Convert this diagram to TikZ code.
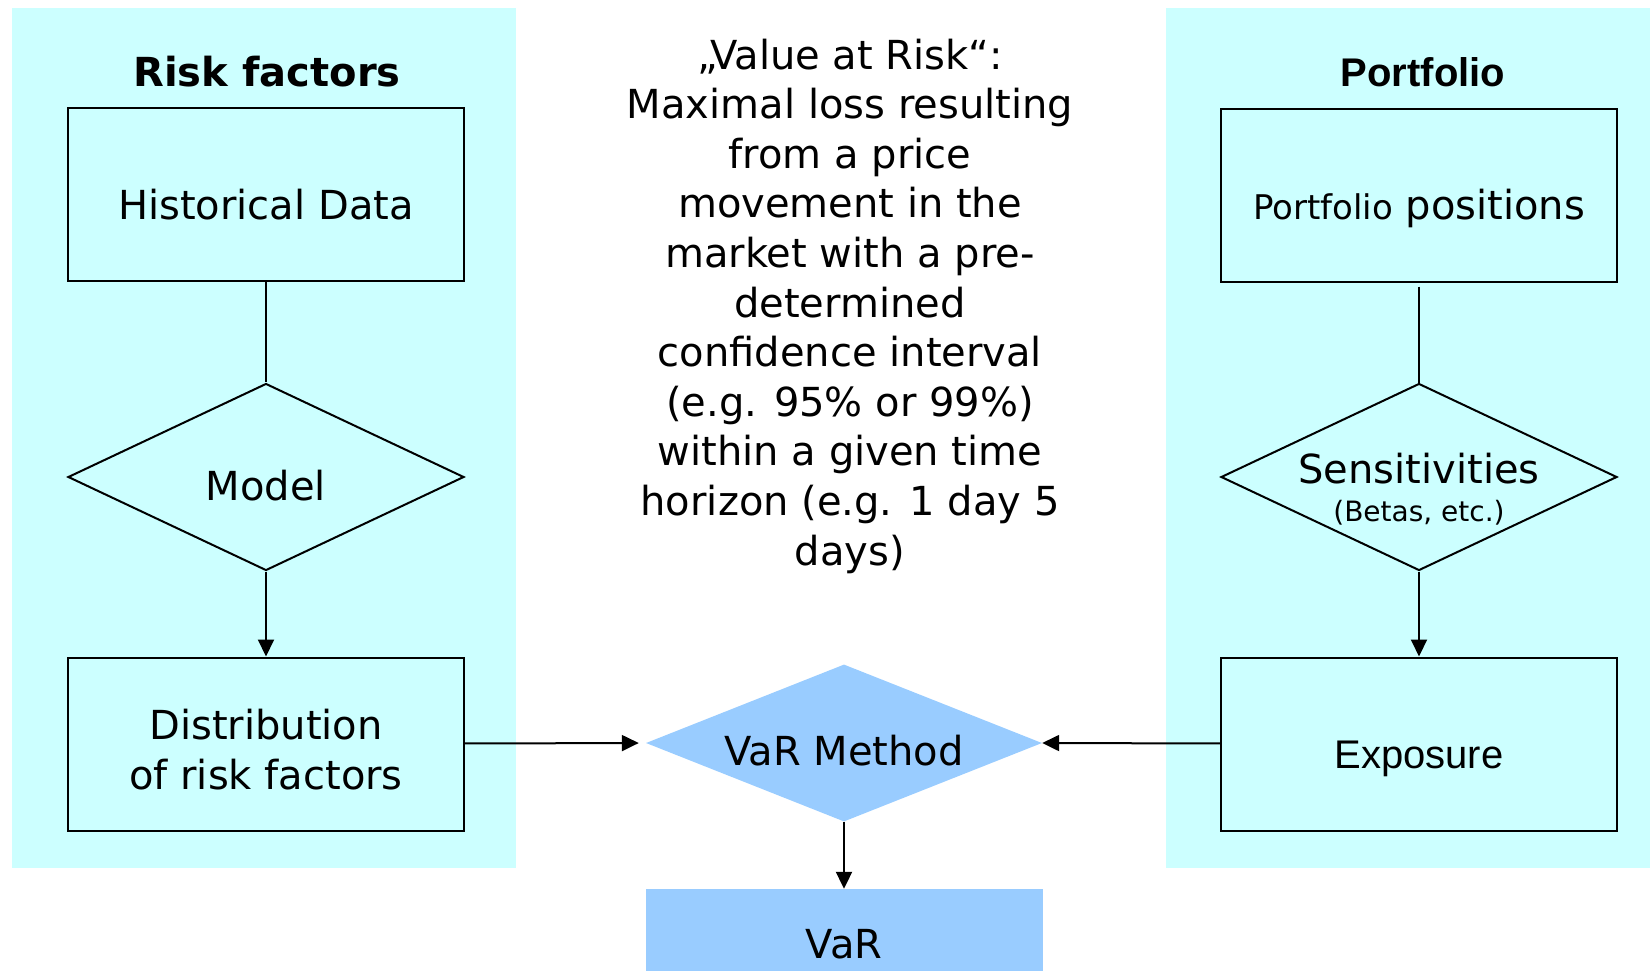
\documentclass[tikz,border=0pt]{standalone}
\usepackage{fontspec}
\setmainfont{DejaVu Sans}
\newfontfamily\arialfont{Liberation Sans}
\usepackage{tikz}
\usetikzlibrary{shapes.geometric,arrows.meta}
\definecolor{panelcyan}{HTML}{CCFFFF}
\definecolor{varblue}{HTML}{99CCFF}
\tikzset{
  box/.style={draw, line width=2pt, minimum width=396pt, minimum height=173pt, inner sep=0pt, align=center, text height=49pt, text depth=0pt, font=\fontsize{40}{50}\selectfont},
  decision/.style={diamond, draw, line width=2pt, aspect=2.1, minimum width=396pt, minimum height=187pt, inner sep=-6pt, align=center, text height=46pt, text depth=0pt, font=\fontsize{40}{50}\selectfont},
  flow/.style={line width=2pt, -{Triangle[length=17pt,width=16pt]}},
  link/.style={line width=2pt},
  title/.style={font=\bfseries\fontsize{40}{48}\selectfont},
}

\begin{document}
\begin{tikzpicture}[x=1pt,y=-1pt]
\useasboundingbox (0,0) rectangle (1650,970);
\fill[panelcyan] (12,8) rectangle (516,868);
\fill[panelcyan] (1166,8) rectangle (1650,868);
\node[title] (rtitle) at (267,72) {Risk factors};
\node[title] (ptitle) at (1423,72) {\arialfont Portfolio};
\node[box] (hist) at (266,194.5) {Historical Data};
\node[decision] (model) at (266,477) {Model};
\node[box, text height=90pt] (dist) at (266,744) {Distribution\\of risk factors};
\node[box] (pos) at (1419,195) {{\fontsize{34}{40}\selectfont Portfolio} positions};
\node[decision, inner sep=-8pt, text height=88pt] (sens) at (1419,477) {Sensitivities\\[-12pt]{\fontsize{28}{34}\selectfont (Betas, etc.)}};
\node[box] (expo) at (1419,744) {\arialfont Exposure};
\node[diamond, fill=varblue, aspect=2.5, minimum width=396pt, minimum height=157pt, inner sep=0pt, text height=44pt, text depth=0pt, font=\fontsize{40}{50}\selectfont] (varm) at (844,743) {VaR Method};
\node[fill=varblue, minimum width=397pt, minimum height=111pt, inner sep=0pt, font=\fontsize{40}{50}\selectfont] (var) at (844,944.5) {VaR};
\node[align=center, font=\fontsize{40}{49.6}\selectfont] (vardef) at (850,306) {„Value at Risk“:\\Maximal loss resulting\\from a price\\movement in the\\market with a pre-\\determined\\confidence interval\\(e.g. 95\% or 99\%)\\within a given time\\horizon (e.g. 1 day 5\\days)};
\draw[link] (hist) -- (model);
\draw[flow] (model) -- (dist);
\draw[flow, shorten >=7pt] (dist) -- (varm.west);
\draw[link, shorten <=4pt] (pos) -- (sens);
\draw[flow] (sens) -- (expo);
\draw[flow] (expo) -- (varm.east);
\draw[flow] (varm) -- (var);
\end{tikzpicture}
\end{document}
